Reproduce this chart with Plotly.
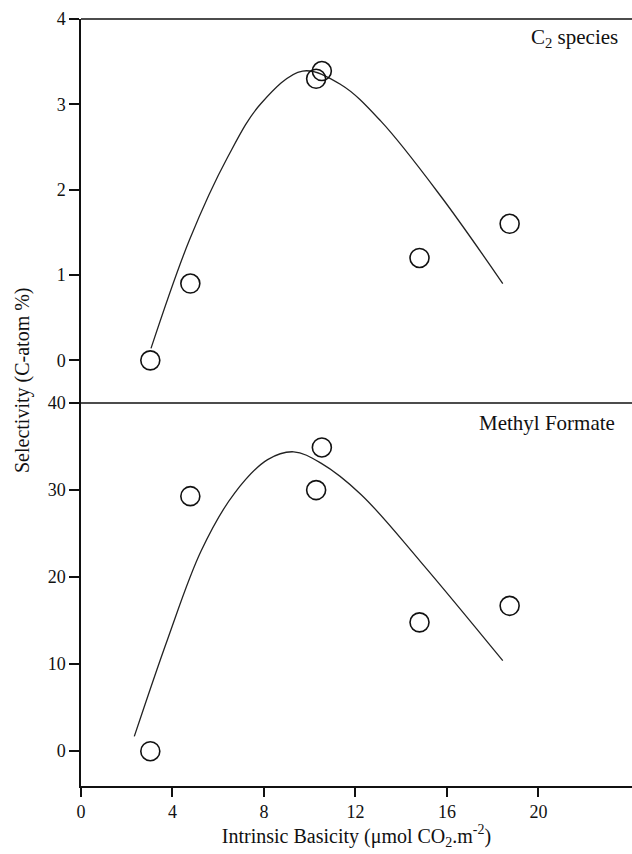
import plotly.graph_objects as go

# Data points (Intrinsic basicity, selectivity)
basicity = [3.03, 4.78, 10.28, 10.53, 14.8, 18.74]
c2_selectivity = [0.0, 0.90, 3.30, 3.39, 1.20, 1.60]
mf_selectivity = [0.0, 29.3, 30.0, 34.9, 14.8, 16.7]

# Fitted trend curves
c2_fit_x = [3.06, 4.74, 6.41, 7.87, 9.69, 11.37, 13.12, 15.74, 18.44]
c2_fit_y = [0.14, 1.41, 2.38, 3.01, 3.39, 3.23, 2.80, 1.92, 0.90]
mf_fit_x = [2.33, 3.79, 5.25, 6.70, 8.16, 9.3, 10.49, 12.24, 14.87, 18.44]
mf_fit_y = [1.7, 12.9, 23.0, 29.6, 33.5, 34.4, 33.1, 29.5, 21.7, 10.4]

x_ticks = [0, 4, 8, 12, 16, 20]
c2_ticks = [0, 1, 2, 3, 4]
mf_ticks = [0, 10, 20, 30, 40]

FONT = "Liberation Serif"
INK = "#111111"

fig = go.Figure()

marker = dict(symbol="circle-open", size=19, color=INK, line=dict(width=1.6, color=INK))
line = dict(color="#222222", width=1.3, shape="spline", smoothing=1.0)

fig.add_trace(go.Scatter(x=c2_fit_x, y=c2_fit_y, mode="lines", line=line,
                         xaxis="x2", yaxis="y2", showlegend=False, hoverinfo="skip"))
fig.add_trace(go.Scatter(x=basicity, y=c2_selectivity, mode="markers", marker=marker,
                         xaxis="x2", yaxis="y2", showlegend=False))
fig.add_trace(go.Scatter(x=mf_fit_x, y=mf_fit_y, mode="lines", line=line,
                         xaxis="x", yaxis="y", showlegend=False, hoverinfo="skip"))
fig.add_trace(go.Scatter(x=basicity, y=mf_selectivity, mode="markers", marker=marker,
                         xaxis="x", yaxis="y", showlegend=False))

xr = [0, 24.09]
tickfont = dict(family=FONT, size=18, color=INK)

fig.update_layout(
    width=632, height=854,
    margin=dict(l=81, r=0, t=19, b=68),
    paper_bgcolor="white", plot_bgcolor="white",
    font=dict(family=FONT, color=INK),
    xaxis=dict(domain=[0, 1], range=xr, anchor="y", tickvals=x_ticks,
               ticks="outside", ticklen=9, tickwidth=1.5, tickcolor=INK,
               showline=True, linewidth=1.5, linecolor=INK, showgrid=False,
               zeroline=False, tickfont=tickfont,
               title=dict(text="Intrinsic Basicity (μmol CO<sub>2</sub>.m<sup>-2</sup>)",
                          font=dict(family=FONT, size=20, color=INK), standoff=2)),
    xaxis2=dict(domain=[0, 1], range=xr, anchor="y2", matches="x", visible=False),
    yaxis=dict(domain=[0, 0.4993], range=[-4, 40], anchor="x", tickvals=mf_ticks,
               ticks="outside", ticklen=10, tickwidth=1.5, tickcolor=INK,
               showline=True, linewidth=1.5, linecolor=INK, showgrid=False,
               zeroline=False, tickfont=tickfont),
    yaxis2=dict(domain=[0.4993, 1], range=[-0.5, 4], anchor="x2", tickvals=c2_ticks,
                ticks="outside", ticklen=10, tickwidth=1.5, tickcolor=INK,
                showline=True, linewidth=1.5, linecolor=INK, showgrid=False,
                zeroline=False, tickfont=tickfont),
    shapes=[
        dict(type="line", xref="paper", yref="paper", x0=0, x1=1, y0=1, y1=1,
             line=dict(color=INK, width=1.5)),
        dict(type="line", xref="paper", yref="paper", x0=0, x1=1, y0=0.4993, y1=0.4993,
             line=dict(color=INK, width=1.5)),
    ],
    annotations=[
        dict(text="C<sub>2</sub> species", xref="paper", yref="paper",
             x=(620 - 81) / 551, y=(786 - 38) / 767, xanchor="right", yanchor="middle",
             showarrow=False, font=dict(family=FONT, size=21, color=INK)),
        dict(text="Methyl Formate", xref="paper", yref="paper",
             x=(617 - 81) / 551, y=(786 - 423) / 767, xanchor="right", yanchor="middle",
             showarrow=False, font=dict(family=FONT, size=21, color=INK)),
        dict(text="Selectivity (C-atom %)", xref="paper", yref="paper",
             x=(22 - 81) / 551, y=(786 - 380) / 767, xanchor="center", yanchor="middle",
             textangle=-90, showarrow=False, font=dict(family=FONT, size=20, color=INK)),
    ],
)

fig.write_html("out.html")
